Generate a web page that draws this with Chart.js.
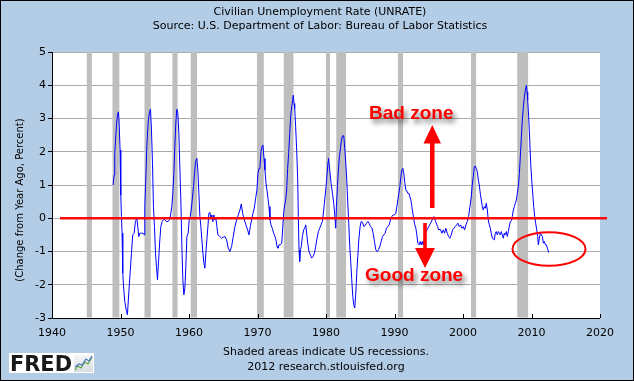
<!DOCTYPE html>
<html><head><meta charset="utf-8">
<script src="https://cdn.jsdelivr.net/npm/chart.js@4.4.1/dist/chart.umd.min.js"></script>
<style>html,body{margin:0;padding:0;background:#B4CDE6;}canvas{display:block;}</style>
</head><body>
<canvas id="c" width="634" height="381"></canvas>
<script>
// ---- data ----
const years = [
1948.92,1949.06,1949.16,1949.41,1949.55,1949.70,1949.80,1949.94,1950.04,1950.14,1950.23,1950.33,1950.48,1950.62,1950.87,1951.01,1951.21,1951.40,1951.60,1951.79,1951.99,1952.18,1952.38,1952.52,1952.67,1952.82,1953.06,1953.30,1953.45,1953.55,1953.69,1953.84,1954.03,1954.23,1954.38,1954.52,1954.67,1954.81,1954.96,1955.11,1955.25,1955.40,1955.54,1955.74,1955.89,1956.08,1956.32,1956.52,1956.71,1956.96,1957.20,1957.35,1957.49,1957.64,1957.79,1957.93,1958.08,1958.23,1958.37,1958.52,1958.66,1958.81,1958.96,1959.10,1959.25,1959.40,1959.54,1959.69,1959.88,1960.03,1960.17,1960.32,1960.47,1960.66,1960.81,1960.95,1961.15,1961.29,1961.44,1961.59,1961.73,1961.88,1962.03,1962.17,1962.32,1962.46,1962.61,1962.76,1962.90,1963.05,1963.20,1963.34,1963.49,1963.63,1963.78,1963.93,1964.07,1964.22,
1964.51,1964.76,1965.00,1965.24,1965.49,1965.73,1965.97,1966.22,1966.46,1966.71,1966.95,1967.19,1967.44,1967.63,1967.83,1968.07,1968.31,1968.56,1968.75,1968.95,1969.14,1969.34,1969.53,1969.73,1969.92,1970.07,1970.22,1970.36,1970.51,1970.65,1970.80,1970.95,1971.09,1971.24,1971.38,1971.53,1971.68,1971.82,1971.97,1972.16,1972.36,1972.55,1972.70,1972.85,1972.99,1973.14,1973.33,1973.53,1973.67,1973.82,1973.97,1974.11,1974.26,1974.40,1974.55,1974.70,1974.84,1974.99,1975.14,1975.23,1975.33,1975.43,1975.57,1975.72,1975.87,1975.96,1976.06,1976.16,1976.26,1976.40,1976.55,1976.74,1976.89,1977.04,1977.18,1977.33,1977.52,1977.72,1977.91,1978.11,1978.30,1978.50,1978.69,1978.89,1979.08,1979.28,1979.47,1979.67,1979.86,1980.01,1980.16,1980.30,
1980.35,1980.55,1980.74,1980.94,1981.13,1981.28,1981.42,1981.52,1981.67,1981.81,1981.96,1982.11,1982.25,1982.40,1982.59,1982.74,1982.89,1983.03,1983.18,1983.32,1983.47,1983.62,1983.76,1983.91,1984.05,1984.20,1984.35,1984.49,1984.64,1984.79,1984.98,1985.13,1985.32,1985.52,1985.71,1985.91,1986.10,1986.30,1986.49,1986.69,1986.88,1987.08,1987.27,1987.47,1987.66,1987.86,1988.05,1988.25,1988.44,1988.63,1988.83,1989.02,1989.22,1989.41,1989.61,1989.80,1990.00,1990.19,1990.34,1990.49,1990.63,1990.78,1990.93,1991.07,1991.22,1991.36,1991.51,1991.66,1991.80,1991.95,1992.10,1992.24,1992.39,1992.53,1992.68,1992.83,1992.97,1993.12,1993.26,1993.41,1993.61,1993.75,1993.90,1994.04,1994.19,1994.33,1994.48,1994.75,1995.00,1995.26,1995.50,1995.75,1996.00,1996.30,
1996.43,1996.68,1996.92,1997.12,1997.31,1997.50,1997.70,1997.90,1998.09,1998.29,1998.48,1998.68,1998.87,1999.07,1999.26,1999.45,1999.65,1999.84,2000.04,2000.23,2000.43,2000.62,2000.82,2001.01,2001.21,2001.35,2001.50,2001.65,2001.79,2001.94,2002.09,2002.23,2002.38,2002.52,2002.67,2002.82,2002.96,2003.11,2003.26,2003.40,2003.55,2003.69,2003.84,2003.99,2004.13,2004.28,2004.42,2004.57,2004.72,2004.86,2005.01,2005.16,2005.30,2005.45,2005.59,2005.74,2005.89,2006.03,2006.18,2006.33,2006.47,2006.62,2006.76,2006.91,2007.06,2007.20,2007.35,2007.50,2007.64,2007.79,2007.93,2008.08,2008.23,2008.37,2008.52,2008.66,2008.81,2008.96,2009.10,2009.25,2009.35,2009.44,2009.59,2009.74,2009.88,2010.03,2010.18,2010.32,2010.47,2010.61,2010.76,2010.91,2011.00,2011.15,2011.30,2011.44,2011.59,2011.73,2011.88,2012.03,2012.17,2012.32,2012.51
];
const changes = [
1.0,1.3,1.95,2.8,3.1,3.2,2.85,2.05,0.7,0.05,-0.45,-1.65,-2.15,-2.5,-2.8,-2.9,-2.25,-1.65,-1.05,-0.5,-0.45,-0.1,0,-0.25,-0.55,-0.45,-0.45,-0.45,-0.5,0.35,1.15,2.15,2.85,3.2,3.28,2.65,1.65,0.35,-0.25,-1.05,-1.45,-1.85,-1.35,-0.65,-0.25,-0.1,-0.03,-0.05,-0.1,-0.1,-0.03,0.15,0.35,0.75,1.35,2.15,2.9,3.28,3.15,2.55,1.55,0.55,-0.85,-1.85,-2.3,-2.1,-1.45,-0.55,-0.45,-0.05,0.05,0.25,0.55,0.95,1.35,1.7,1.8,1.45,0.75,0.05,-0.25,-0.65,-1.05,-1.35,-1.5,-1.05,-0.65,-0.25,0.15,0.18,0,0.1,-0.1,0.1,-0.05,0,-0.25,-0.5,
-0.55,-0.6,-0.57,-0.55,-0.65,-0.9,-1.0,-0.85,-0.55,-0.25,-0.05,0.1,0.25,0.43,0.15,-0.05,-0.2,-0.35,-0.5,-0.25,-0.05,0.15,0.3,0.6,0.85,1.35,1.5,1.55,2.0,2.15,2.2,1.8,1.45,1.05,0.85,0.6,0.35,-0.05,-0.2,-0.3,-0.45,-0.55,-0.65,-0.85,-0.9,-0.8,-0.8,-0.75,-0.35,0.15,0.4,0.55,0.85,1.5,1.95,2.55,3.05,3.35,3.55,3.7,3.45,3.3,2.75,2.05,1.15,0.05,-0.95,-1.3,-0.95,-0.85,-0.55,-0.35,-0.3,-0.2,-0.45,-0.75,-1.0,-1.1,-1.2,-1.15,-1.05,-0.85,-0.6,-0.4,-0.3,-0.2,-0.1,0.25,0.65,0.95,1.35,1.7,
1.8,1.45,1.05,0.75,0.45,0.1,-0.3,0.35,0.95,1.45,1.85,2.1,2.35,2.48,2.48,2.1,1.65,1.15,0.45,-0.15,-0.85,-1.35,-1.85,-2.35,-2.6,-2.7,-2.25,-1.65,-1.15,-0.65,-0.25,-0.1,-0.12,-0.25,-0.22,-0.15,-0.1,-0.15,-0.25,-0.28,-0.45,-0.7,-0.95,-1.0,-0.95,-0.85,-0.7,-0.55,-0.5,-0.45,-0.3,-0.25,-0.2,-0.05,0.05,0.1,0.1,0.15,0.35,0.55,0.75,0.95,1.25,1.45,1.5,1.35,1.05,0.85,0.82,0.75,0.75,0.65,0.55,0.35,0.15,-0.05,-0.2,-0.3,-0.5,-0.75,-0.8,-0.7,-0.8,-0.7,-0.8,-0.65,-0.45,-0.35,-0.25,-0.15,-0.05,0.05,-0.1,-0.25,
-0.35,-0.33,-0.45,-0.35,-0.45,-0.3,-0.45,-0.55,-0.6,-0.5,-0.35,-0.3,-0.25,-0.2,-0.15,-0.25,-0.2,-0.3,-0.25,-0.35,-0.2,-0.1,0.05,0.35,0.65,1.0,1.25,1.55,1.57,1.5,1.4,1.15,1.0,0.75,0.55,0.35,0.25,0.35,0.3,0.45,0.25,-0.05,-0.2,-0.3,-0.45,-0.6,-0.62,-0.65,-0.45,-0.4,-0.5,-0.4,-0.45,-0.5,-0.4,-0.5,-0.6,-0.45,-0.5,-0.4,-0.55,-0.4,-0.25,-0.1,-0.08,0.05,0.25,0.35,0.45,0.55,0.75,0.95,1.35,1.85,2.45,2.95,3.35,3.65,3.85,4.0,3.8,3.55,3.05,2.35,1.65,1.15,0.75,0.35,0.05,-0.15,-0.35,-0.55,-0.8,-0.6,-0.45,-0.5,-0.55,-0.75,-0.7,-0.8,-0.8,-0.9,-1.03
];
const recessionStarts = [1945.08,1948.83,1953.50,1957.58,1960.25,1969.92,1973.83,1980.00,1981.50,1990.50,2001.17,2007.92];
const recessionEnds   = [1945.83,1949.83,1954.42,1958.33,1961.17,1970.92,1975.25,1980.58,1982.92,1991.25,2001.92,2009.50];
const xTicks = [1940,1950,1960,1970,1980,1990,2000,2010,2020];
const yTicks = [-3,-2,-1,0,1,2,3,4,5];
const titleText = 'Civilian Unemployment Rate (UNRATE)';
const subtitleText = 'Source: U.S. Department of Labor: Bureau of Labor Statistics';
const yTitleText = '(Change from Year Ago, Percent)';
const footer1 = 'Shaded areas indicate US recessions.';
const footer2 = '2012 research.stlouisfed.org';

const FONT = '"DejaVu Sans", Verdana, sans-serif';

const deco = {
  id: 'deco',
  beforeDraw(chart) {
    const {ctx, chartArea: a} = chart;
    ctx.save();
    ctx.fillStyle = '#B4CDE6';
    ctx.fillRect(0, 0, chart.width, chart.height);
    ctx.fillStyle = '#FFFFFF';
    ctx.fillRect(a.left, a.top, a.right - a.left, a.bottom - a.top);
    ctx.restore();
  },
  beforeDatasetsDraw(chart) {
    const {ctx, chartArea: a, scales: {x}} = chart;
    ctx.save();
    ctx.fillStyle = '#BEBEBE';
    for (let i = 0; i < recessionStarts.length; i++) {
      const x0 = x.getPixelForValue(recessionStarts[i]);
      const x1 = x.getPixelForValue(recessionEnds[i]);
      ctx.fillRect(x0, a.top, Math.max(x1 - x0, 1), a.bottom - a.top - 0.5);
    }
    ctx.restore();
  },
  afterDatasetsDraw(chart) {
    const {ctx, chartArea: a, scales: {x, y}} = chart;
    ctx.save();
    // axes
    ctx.strokeStyle = '#000'; ctx.lineWidth = 1;
    ctx.beginPath();
    ctx.moveTo(Math.round(a.left) + 0.5, a.top); ctx.lineTo(Math.round(a.left) + 0.5, Math.round(a.bottom) + 0.5);
    ctx.lineTo(a.right, Math.round(a.bottom) + 0.5);
    ctx.stroke();
    // inward x ticks
    ctx.beginPath();
    xTicks.forEach(v => {
      const px = Math.round(x.getPixelForValue(v)) + 0.5;
      ctx.moveTo(px, Math.round(a.bottom)); ctx.lineTo(px, Math.round(a.bottom) - 4);
    });
    ctx.stroke();
    // zero line
    const y0 = y.getPixelForValue(0);
    ctx.strokeStyle = 'rgba(255,0,0,0.95)'; ctx.lineWidth = 2.4;
    ctx.beginPath(); ctx.moveTo(60, y0); ctx.lineTo(607, y0); ctx.stroke();
    // arrows
    ctx.fillStyle = '#FF0000';
    ctx.fillRect(430, 142, 4.5, 66);
    ctx.beginPath(); ctx.moveTo(423.5, 143.5); ctx.lineTo(432.3, 125); ctx.lineTo(441, 143.5); ctx.closePath(); ctx.fill();
    ctx.fillRect(423.2, 223, 3.6, 26);
    ctx.beginPath(); ctx.moveTo(415, 248); ctx.lineTo(435, 248); ctx.lineTo(425, 268); ctx.closePath(); ctx.fill();
    // ellipse
    ctx.strokeStyle = '#FF0000'; ctx.lineWidth = 2;
    ctx.beginPath(); ctx.ellipse(549, 249, 36.5, 16.8, 0, 0, Math.PI * 2); ctx.stroke();
    // zone labels with shadow
    ctx.font = 'bold 19px "Liberation Sans", Arial, sans-serif';
    ctx.textAlign = 'left'; ctx.textBaseline = 'alphabetic';
    ctx.shadowColor = 'rgba(0,0,0,0.55)'; ctx.shadowBlur = 5; ctx.shadowOffsetX = 3; ctx.shadowOffsetY = 4;
    ctx.fillStyle = '#FF0000';
    ctx.fillText('Bad zone', 369, 118.5);
    ctx.fillText('Good zone', 365, 280.5);
    ctx.restore();
  },
  afterDraw(chart) {
    const {ctx} = chart;
    ctx.save();
    ctx.fillStyle = '#000';
    ctx.textAlign = 'center'; ctx.textBaseline = 'middle';
    ctx.font = '11px ' + FONT;
    ctx.fillText(titleText, 320, 12);
    ctx.fillText(subtitleText, 320, 26);
    ctx.fillText(footer1, 326, 352);
    ctx.fillText(footer2, 326, 367);
    // y title
    ctx.save();
    ctx.font = '10px ' + FONT;
    ctx.translate(20, 200); ctx.rotate(-Math.PI / 2);
    ctx.fillText(yTitleText, 0, 0);
    ctx.restore();
    // FRED logo
    ctx.fillStyle = '#FFFFFF';
    ctx.fillRect(9, 353, 85, 20);
    ctx.fillStyle = '#1a1a1a';
    ctx.textAlign = 'left'; ctx.textBaseline = 'alphabetic';
    ctx.font = 'bold 21px "DejaVu Sans", sans-serif';
    const w = ctx.measureText('FRED').width;
    ctx.save(); ctx.translate(10, 370.5); ctx.scale(62 / w, 1); ctx.fillText('FRED', 0, 0); ctx.restore();
    // small chart icon
    const g = ctx.createLinearGradient(74, 355, 74, 372);
    g.addColorStop(0, '#f4f6f8'); g.addColorStop(1, '#d8dde2');
    ctx.fillStyle = g; ctx.fillRect(74, 355, 19, 17);
    ctx.lineWidth = 1.2;
    ctx.strokeStyle = '#5aa03c';
    ctx.beginPath(); ctx.moveTo(75, 370); ctx.lineTo(78, 366); ctx.lineTo(81, 368); ctx.lineTo(85, 362); ctx.lineTo(88, 364); ctx.lineTo(92, 357); ctx.stroke();
    ctx.strokeStyle = '#4a78c0';
    ctx.beginPath(); ctx.moveTo(75, 367); ctx.lineTo(79, 364); ctx.lineTo(82, 365); ctx.lineTo(86, 359); ctx.lineTo(89, 361); ctx.lineTo(92, 356); ctx.stroke();
    // outer frame
    ctx.strokeStyle = '#000'; ctx.lineWidth = 1;
    ctx.strokeRect(0.5, 0.5, chart.width - 1, chart.height - 1);
    ctx.restore();
  }
};

const chart = new Chart(document.getElementById('c'), {
  type: 'line',
  data: {
    datasets: [{
      data: years.map((v, i) => ({x: v, y: changes[i]})),
      borderColor: '#0000FF', borderWidth: 1, pointRadius: 0, tension: 0, fill: false
    }]
  },
  options: {
    responsive: false, animation: false, devicePixelRatio: 1,
    layout: {padding: {left: 0, top: 52, right: 34, bottom: 0}},
    plugins: {legend: {display: false}, tooltip: {enabled: false}, title: {display: false}},
    scales: {
      x: {
        type: 'linear', min: 1940, max: 2020,
        afterBuildTicks: s => { s.ticks = xTicks.map(v => ({value: v})); },
        afterFit: s => { s.height = 63; },
        grid: {display: false},
        border: {display: false},
        ticks: {color: '#000', font: {family: FONT, size: 11}, padding: 1, maxRotation: 0, autoSkip: false, callback: v => String(v)}
      },
      y: {
        min: -3, max: 5,
        afterBuildTicks: s => { s.ticks = yTicks.map(v => ({value: v})); },
        afterFit: s => { s.width = 52; },
        grid: {color: '#ABABAB', lineWidth: 1, tickLength: 4, tickColor: '#000'},
        border: {display: false},
        ticks: {color: '#000', font: {family: FONT, size: 11}, padding: 2, callback: v => String(v)}
      }
    }
  },
  plugins: [deco]
});
</script>
</body></html>
